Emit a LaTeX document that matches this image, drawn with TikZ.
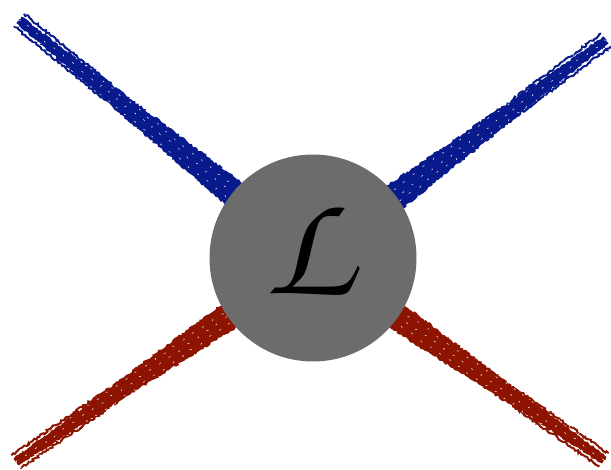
\documentclass[tikz,border=0pt]{standalone}
\usepackage[T1,TU]{fontenc}
\usetikzlibrary{calc,decorations.pathmorphing}
\definecolor{legblue}{RGB}{8,26,140}
\definecolor{legred}{RGB}{140,20,0}
\definecolor{blobgray}{RGB}{108,108,108}
\begin{document}
\begin{tikzpicture}[x=1pt,y=-1pt,
    blob/.style={circle,fill=blobgray,minimum size=207pt,inner sep=0pt},
    rough/.style={decorate,decoration={random steps,segment length=2pt,amplitude=1.2pt}}]
  \useasboundingbox (0,0) rectangle (611,470);
  \coordinate (vc) at (313,258);
  \coordinate (ul) at (19,20);
  \coordinate (ur) at (606,40);
  \coordinate (ll) at (16,462);
  \coordinate (lr) at (604,460);
  % legs first, the blob goes on top
  \foreach \e/\c in {ul/legblue,ur/legblue,ll/legred,lr/legred}{
    \coordinate (in) at ($(\e)!0.8!(vc)$);
    \coordinate (mid) at ($(\e)!0.3!(vc)$);
    \fill[\c,rough] ($(\e)!4pt!90:(vc)$) -- ($(in)!15pt!-90:(\e)$)
      -- ($(in)!15pt!90:(\e)$) -- ($(\e)!4pt!-90:(vc)$) -- cycle;
    \foreach \o in {-8,-3,3,8}
      \draw[\c,rough,line width=2pt] ($(\e)!\o pt!90:(vc)$) -- ($(mid)!\o pt!-90:(\e)$);
    % light speckles in the paint
    \foreach \o in {-7,0,6}
      \draw[white,rough,line width=0.5pt,dash pattern=on 2pt off 11pt]
        ($(\e)!\o pt!90:(vc)$) -- ($(in)!\o pt!-90:(\e)$);
  }
  \node[blob] (v) at (vc) {};
  \node[scale=15] (lag) at ([xshift=-4pt,yshift=8pt]vc)
    {\fontencoding{T1}\fontfamily{pzc}\fontseries{mb}\fontshape{it}\selectfont L};
\end{tikzpicture}
\end{document}
